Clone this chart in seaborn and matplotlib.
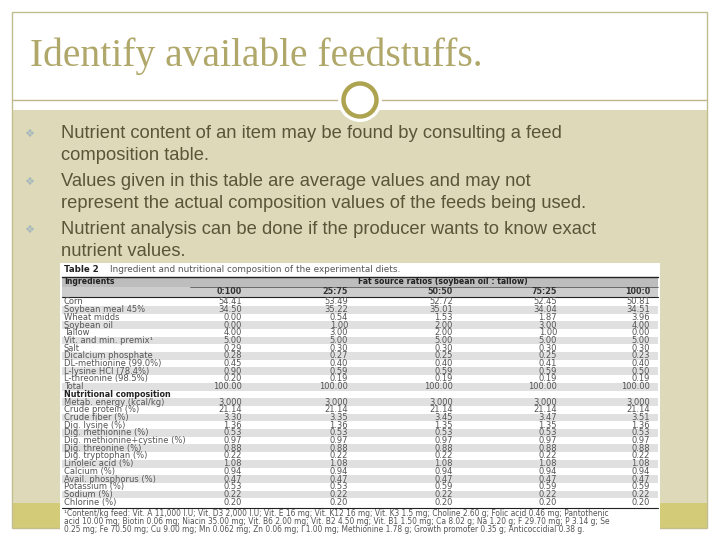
import numpy as np
import pandas as pd
import seaborn as sns
import matplotlib.pyplot as plt
from matplotlib.patches import Rectangle, Circle

# slide text
title = 'Identify available feedstuffs.'
bullets = [
    ['Nutrient content of an item may be found by consulting a feed',
     'composition table.'],
    ['Values given in this table are average values and may not',
     'represent the actual composition values of the feeds being used.'],
    ['Nutrient analysis can be done if the producer wants to know exact',
     'nutrient values.'],
]

# table data
ratios = ['0:100', '25:75', '50:50', '75:25', '100:0']
ingredients = ['Corn', 'Soybean meal 45%', 'Wheat midds', 'Soybean oil', 'Tallow',
               'Vit. and min. premix\u00b9', 'Salt', 'Dicalcium phosphate',
               'DL-methionine (99.0%)', 'L-lysine HCl (78.4%)', 'L-threonine (98.5%)', 'Total']
ingr_values = [
    ['54.41', '53.49', '52.72', '52.45', '50.81'],
    ['34.50', '35.22', '35.01', '34.04', '34.51'],
    ['0.00', '0.54', '1.53', '1.87', '3.96'],
    ['0.00', '1.00', '2.00', '3.00', '4.00'],
    ['4.00', '3.00', '2.00', '1.00', '0.00'],
    ['5.00', '5.00', '5.00', '5.00', '5.00'],
    ['0.29', '0.30', '0.30', '0.30', '0.30'],
    ['0.28', '0.27', '0.25', '0.25', '0.23'],
    ['0.45', '0.40', '0.40', '0.41', '0.40'],
    ['0.90', '0.59', '0.59', '0.59', '0.50'],
    ['0.20', '0.19', '0.19', '0.19', '0.19'],
    ['100.00', '100.00', '100.00', '100.00', '100.00'],
]
nutrients = ['Metab. energy (kcal/kg)', 'Crude protein (%)', 'Crude fiber (%)',
             'Dig. lysine (%)', 'Dig. methionine (%)', 'Dig. methionine+cystine (%)',
             'Dig. threonine (%)', 'Dig. tryptophan (%)', 'Linoleic acid (%)',
             'Calcium (%)', 'Avail. phosphorus (%)', 'Potassium (%)', 'Sodium (%)',
             'Chlorine (%)']
nutr_values = [
    ['3.000', '3.000', '3.000', '3.000', '3.000'],
    ['21.14', '21.14', '21.14', '21.14', '21.14'],
    ['3.30', '3.35', '3.45', '3.47', '3.51'],
    ['1.36', '1.36', '1.35', '1.35', '1.36'],
    ['0.53', '0.53', '0.53', '0.53', '0.53'],
    ['0.97', '0.97', '0.97', '0.97', '0.97'],
    ['0.88', '0.88', '0.88', '0.88', '0.88'],
    ['0.22', '0.22', '0.22', '0.22', '0.22'],
    ['1.08', '1.08', '1.08', '1.08', '1.08'],
    ['0.94', '0.94', '0.94', '0.94', '0.94'],
    ['0.47', '0.47', '0.47', '0.47', '0.47'],
    ['0.53', '0.53', '0.59', '0.59', '0.59'],
    ['0.22', '0.22', '0.22', '0.22', '0.22'],
    ['0.20', '0.20', '0.20', '0.20', '0.20'],
]
footnote = [
    '\u00b9Content/kg feed: Vit. A 11,000 I.U; Vit. D3 2,000 I.U; Vit. E 16 mg; Vit. K12 16 mg; Vit. K3 1.5 mg; Choline 2.60 g; Folic acid 0.46 mg; Pantothenic',
    'acid 10.00 mg; Biotin 0.06 mg; Niacin 35.00 mg; Vit. B6 2.00 mg; Vit. B2 4.50 mg; Vit. B1 1.50 mg; Ca 8.02 g; Na 1.20 g; F 29.70 mg; P 3.14 g; Se',
    '0.25 mg; Fe 70.50 mg; Cu 9.00 mg; Mn 0.062 mg; Zn 0.06 mg; I 1.00 mg; Methionine 1.78 g; Growth promoter 0.35 g; Anticoccidial 0.38 g.',
]

sns.set_theme(style='white')
plt.rcParams['font.family'] = ['DejaVu Sans']

OLIVE = '#b0a86a'
TAN = '#dedab9'
DARK_BAND = '#d3cb77'
TXT = '#5b5537'

fig = plt.figure(figsize=(7.2, 5.4), dpi=100)
ax = fig.add_axes([0, 0, 1, 1])
ax.set_xlim(0, 720)
ax.set_ylim(540, 0)
ax.axis('off')

# slide frame and bands
ax.add_patch(Rectangle((12, 110), 695, 393, facecolor=TAN, edgecolor='none'))
ax.add_patch(Rectangle((12, 503), 695, 25, facecolor=DARK_BAND, edgecolor='none'))
ax.add_patch(Rectangle((12, 12), 695, 516, facecolor='none', edgecolor='#c2bd90', lw=1))
ax.plot([12, 707], [100, 100], color='#bdb78a', lw=1)
ax.add_patch(Circle((360, 100), 22, facecolor='white', edgecolor='none', zorder=3))
ax.add_patch(Circle((360, 100), 16.5, facecolor='white', edgecolor='#aea450', lw=3.2, zorder=4))

ax.text(30, 56, title, family='Liberation Serif', fontsize=28.5, color=OLIVE, va='center', ha='left')

# bullets
y0 = 134
for lines in bullets:
    ax.text(24, y0, '\u2756', fontsize=8, color='#a3b7bb', va='center', ha='left')
    for k, line in enumerate(lines):
        ax.text(61, y0 + k * 22, line, family='Liberation Sans', fontsize=13.2,
                color=TXT, va='center', ha='left')
    y0 += 48

# embedded table
tx0, tx1 = 60, 660
ax.add_patch(Rectangle((tx0, 263), tx1 - tx0, 268, facecolor='white', edgecolor='none', zorder=1))
fs = 6.0
tcol = '#555555'
ax.text(64, 270, 'Table 2', fontsize=6.2, weight='bold', color='#222222', va='center')
ax.text(110, 270, 'Ingredient and nutritional composition of the experimental diets.',
        fontsize=6.4, color='#555555', va='center')
ax.add_patch(Rectangle((62, 277), 596, 10, facecolor='#bdbdbd', edgecolor='none', zorder=2))
ax.add_patch(Rectangle((62, 287), 596, 9.5, facecolor='#cdcdcd', edgecolor='none', zorder=2))
ax.plot([62, 658], [276.5, 276.5], color='#222222', lw=1.0, zorder=3)
ax.plot([62, 658], [296.8, 296.8], color='#222222', lw=0.8, zorder=3)
ax.plot([190, 658], [286.8, 286.8], color='#444444', lw=0.5, zorder=3)
ax.text(64, 282, 'Ingredients', fontsize=5.6, weight='bold', color='#222222', va='center', zorder=4)
ax.text(443, 282, 'Fat source ratios (soybean oil : tallow)', fontsize=5.6, weight='bold',
        color='#222222', va='center', ha='center', zorder=4)
col_x = [242, 348, 453, 557, 650]
for cx, r in zip(col_x, ratios):
    ax.text(cx, 291.8, r, fontsize=5.8, weight='bold', color='#333333', va='center', ha='right', zorder=4)

body = pd.DataFrame(ingr_values, index=ingredients, columns=ratios)
nutr = pd.DataFrame(nutr_values, index=nutrients, columns=ratios)

step = 7.7
y = 302.0
for i, (name, row) in enumerate(body.iterrows()):
    if i % 2 == 1:
        ax.add_patch(Rectangle((62, y - step / 2), 596, step, facecolor='#e0e0e0', edgecolor='none', zorder=2))
    ax.text(64, y, name, fontsize=fs, color=tcol, va='center', zorder=4)
    for cx, v in zip(col_x, row):
        ax.text(cx, y, v, fontsize=fs, color=tcol, va='center', ha='right', zorder=4)
    y += step
ax.text(64, y, 'Nutritional composition', fontsize=5.8, weight='bold', color='#222222', va='center', zorder=4)
y += step
for i, (name, row) in enumerate(nutr.iterrows()):
    if i % 2 == 0:
        ax.add_patch(Rectangle((62, y - step / 2), 596, step, facecolor='#e0e0e0', edgecolor='none', zorder=2))
    ax.text(64, y, name, fontsize=fs, color=tcol, va='center', zorder=4)
    for cx, v in zip(col_x, row):
        ax.text(cx, y, v, fontsize=fs, color=tcol, va='center', ha='right', zorder=4)
    y += step

ax.plot([62, 658], [y - 1.5, y - 1.5], color='#222222', lw=0.8, zorder=3)
fy = y + 4.0
for line in footnote:
    ax.text(64, fy, line, fontsize=5.45, color=tcol, va='center', zorder=4)
    fy += 7.6

fig.savefig('out.png', dpi=100)
plt.close('all')
